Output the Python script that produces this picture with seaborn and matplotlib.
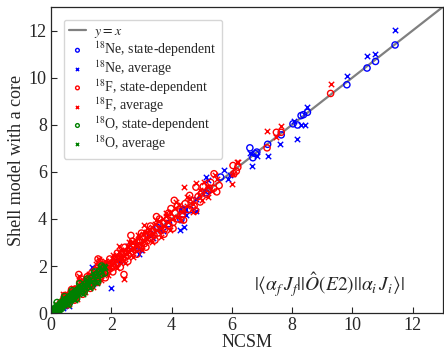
import matplotlib
matplotlib.use("Agg")
import matplotlib.pyplot as plt
import numpy as np
import pandas as pd
import seaborn as sns

sns.set_theme(style="ticks")
plt.rcParams["font.family"] = ["Liberation Serif", "DejaVu Serif"]
plt.rcParams["mathtext.fontset"] = "stix"
plt.rcParams["xtick.direction"] = "in"
plt.rcParams["ytick.direction"] = "in"

# 18Ne, state-dependent (NCSM, shell model)
ne_sd_x = [0.10, 0.18, 0.30, 0.45, 0.55, 1.35, 2.20, 2.90, 3.30, 3.54, 3.90, 4.31, 4.37,
           4.40, 4.42, 4.62, 5.14, 5.22, 5.63, 6.60, 6.70, 6.79, 6.83, 7.19, 7.64, 8.03,
           8.18, 8.30, 8.38, 8.51, 9.82, 10.49, 10.77, 11.42]
ne_sd_y = [0.08, 0.12, 0.22, 0.30, 0.35, 1.30, 2.15, 2.85, 3.35, 3.63, 3.80, 3.97, 4.36,
           4.41, 4.36, 4.39, 5.11, 5.21, 5.78, 7.02, 6.60, 6.77, 6.84, 7.17, 7.57, 8.04,
           7.99, 8.39, 8.43, 8.53, 9.70, 10.41, 10.69, 11.39]

# 18Ne, average
ne_av_x = [0.12, 0.25, 0.40, 0.60, 1.36, 1.40, 1.98, 2.30, 2.57, 2.91, 3.00, 3.40, 3.60,
           3.70, 4.29, 4.42, 4.48, 4.81, 4.81, 5.14, 5.22, 5.74, 5.87, 5.94, 6.60, 6.68,
           6.84, 7.19, 7.61, 8.05, 8.16, 8.30, 8.44, 8.51, 9.82, 10.49, 10.77, 11.42]
ne_av_y = [0.05, 0.10, 0.20, 0.30, 1.96, 1.25, 1.05, 2.20, 2.85, 2.53, 2.70, 3.20, 3.52,
           3.50, 3.52, 3.66, 4.15, 4.33, 4.83, 5.78, 5.67, 6.10, 5.71, 5.85, 6.80, 6.26,
           6.69, 6.67, 7.19, 8.18, 7.40, 7.99, 7.99, 8.77, 10.06, 10.90, 11.00, 12.02]

# 18F, state-dependent
f_sd_x = [0.22, 0.28, 0.31, 0.35, 0.40, 0.42, 0.46, 0.50, 0.53, 0.57, 0.60, 0.63, 0.66,
          0.70, 0.73, 0.76, 0.80, 0.83, 0.86, 0.90, 0.92, 0.95, 0.98, 1.02, 1.05, 1.08,
          1.12, 1.15, 1.18, 1.22, 1.25, 1.28, 1.31, 1.35, 1.38, 1.42, 1.45, 1.48, 1.52,
          1.56, 1.58, 1.62, 1.65, 1.68, 1.72, 1.75, 1.78, 1.82, 1.86, 1.90, 1.93, 1.97,
          2.00, 2.04, 2.08, 2.12, 2.15, 2.18, 2.22, 2.26, 2.30, 2.34, 2.38, 2.42, 2.45,
          2.48, 2.52, 2.56, 2.60, 2.64, 2.68, 2.72, 2.76, 2.80, 2.85, 2.90, 2.95, 3.00,
          3.05, 3.10, 3.15, 3.20, 3.25, 3.30, 3.36, 3.42, 3.48, 3.54, 3.60, 3.66, 3.72,
          3.78, 3.85, 3.92, 3.98, 3.98, 4.05, 4.09, 4.12, 4.20, 4.28, 4.36, 4.45, 4.55,
          4.65, 4.75, 4.81, 4.88, 4.95, 5.05, 5.15, 5.25, 5.40, 5.41, 5.58, 6.04, 6.07,
          6.15, 6.20, 7.17, 7.48, 7.64, 9.28,
          0.45, 0.55, 0.68, 0.78, 0.95, 1.05, 1.20, 1.30, 1.45, 1.55, 1.70, 1.80, 1.95,
          2.05, 2.20, 2.30, 2.45, 2.55, 2.70, 2.85, 3.00, 3.15, 3.30, 3.45, 3.60, 3.75,
          3.90, 4.05, 4.20, 4.40, 4.60, 4.80, 5.00, 5.30, 5.50, 2.65, 3.50, 1.00, 1.62]
f_sd_y = [0.30, 0.25, 0.42, 0.38, 0.55, 0.36, 0.62, 0.48, 0.70, 0.52, 0.78, 0.60, 0.85,
          0.66, 0.92, 0.74, 1.02, 0.78, 0.95, 0.86, 1.64, 1.10, 0.92, 1.18, 0.98, 1.30,
          1.05, 1.22, 1.12, 1.40, 1.18, 1.55, 1.28, 1.70, 1.36, 1.50, 1.42, 1.62, 1.48,
          2.30, 1.60, 1.75, 1.56, 1.82, 1.66, 1.90, 1.72, 1.95, 1.80, 2.02, 1.86, 2.10,
          1.92, 2.15, 2.00, 2.28, 2.05, 2.35, 2.12, 2.40, 2.22, 2.50, 2.30, 1.64, 2.55,
          2.38, 2.62, 2.46, 2.75, 2.55, 2.82, 2.62, 2.90, 2.70, 3.02, 2.78, 3.10, 2.86,
          3.25, 2.95, 3.35, 3.08, 3.45, 3.18, 3.50, 3.30, 3.62, 3.40, 3.75, 3.50, 3.85,
          3.58, 3.98, 3.70, 4.05, 4.44, 3.85, 4.79, 4.25, 4.00, 4.40, 4.20, 4.65, 4.40,
          4.80, 4.55, 5.35, 4.95, 4.72, 5.38, 5.05, 5.30, 5.30, 5.92, 5.42, 6.27, 5.92,
          6.03, 6.20, 7.02, 7.68, 7.68, 9.33,
          0.75, 0.35, 1.00, 0.55, 1.30, 0.80, 1.55, 1.05, 1.80, 1.30, 2.05, 1.50, 2.30,
          1.75, 2.55, 1.95, 2.80, 2.20, 3.05, 2.50, 3.40, 2.80, 3.70, 3.10, 4.00, 3.35,
          4.25, 3.60, 4.55, 3.95, 5.00, 4.35, 5.10, 5.55, 5.15, 3.30, 4.10, 1.45, 2.20]

# 18F, average
f_av_x = [0.20, 0.26, 0.30, 0.34, 0.38, 0.44, 0.48, 0.52, 0.56, 0.61, 0.64, 0.68, 0.72,
          0.75, 0.79, 0.84, 0.88, 0.92, 0.96, 1.00, 1.04, 1.10, 1.14, 1.17, 1.21, 1.26,
          1.30, 1.34, 1.37, 1.41, 1.44, 1.50, 1.54, 1.58, 1.61, 1.64, 1.69, 1.73, 1.77,
          1.81, 1.85, 1.88, 1.92, 1.96, 2.02, 2.06, 2.10, 2.14, 2.20, 2.24, 2.28, 2.32,
          2.36, 2.42, 2.44, 2.50, 2.54, 2.58, 2.62, 2.66, 2.70, 2.75, 2.80, 2.86, 2.92,
          2.98, 3.04, 3.08, 3.14, 3.18, 3.24, 3.30, 3.35, 3.40, 3.46, 3.52, 3.58, 3.64,
          3.70, 3.76, 3.82, 3.88, 3.95, 4.02, 4.10, 4.18, 4.26, 4.34, 4.42, 4.50, 4.60,
          4.70, 4.81, 4.90, 5.00, 5.08, 5.20, 5.35, 5.50, 6.02, 6.04, 6.18, 6.20, 7.17,
          7.48, 7.64, 9.28,
          0.40, 0.58, 0.72, 0.85, 1.00, 1.12, 1.25, 1.38, 1.52, 1.65, 1.78, 1.90, 2.05,
          2.18, 2.32, 2.45, 2.60, 2.72, 2.88, 3.02, 3.20, 3.35, 3.50, 3.65, 3.80, 3.95,
          4.15, 4.30, 4.50, 4.70, 4.95, 5.20, 5.45, 2.25, 3.10, 1.48]
f_av_y = [0.35, 0.22, 0.48, 0.32, 0.60, 0.44, 0.70, 0.55, 0.66, 0.58, 0.90, 0.72, 0.80,
          1.00, 0.84, 1.06, 0.90, 1.58, 1.02, 1.25, 1.08, 1.35, 1.15, 1.45, 1.25, 1.48,
          1.32, 1.60, 1.44, 1.75, 1.50, 1.70, 1.55, 2.29, 1.68, 1.92, 1.74, 2.00, 1.80,
          2.05, 1.88, 2.15, 1.96, 2.22, 2.05, 2.30, 2.12, 2.42, 2.20, 2.60, 2.32, 2.45,
          2.28, 1.44, 2.70, 2.52, 2.80, 2.58, 2.90, 2.68, 3.00, 2.72, 3.10, 2.88, 3.20,
          2.95, 3.35, 3.05, 3.45, 3.15, 3.55, 3.30, 3.65, 3.38, 3.78, 3.52, 3.90, 3.62,
          4.00, 3.72, 4.12, 3.85, 4.30, 3.98, 4.45, 4.10, 4.60, 4.30, 5.35, 4.55, 4.85,
          4.62, 5.54, 5.00, 4.80, 5.56, 5.35, 5.20, 5.70, 5.47, 5.89, 6.41, 6.41, 7.73,
          7.47, 7.95, 9.73,
          0.80, 0.40, 1.05, 0.62, 1.40, 0.88, 1.68, 1.12, 1.90, 1.40, 2.20, 1.62, 2.48,
          1.90, 2.70, 2.12, 3.00, 2.40, 3.30, 2.70, 3.60, 3.00, 3.95, 3.25, 4.25, 3.55,
          4.70, 3.95, 4.95, 4.30, 5.25, 4.95, 5.85, 2.85, 3.75, 2.10]

# 18O, state-dependent
o_sd_x = [0.05, 0.08, 0.10, 0.12, 0.15, 0.17, 0.20, 0.22, 0.25, 0.27, 0.30, 0.33, 0.36,
          0.38, 0.41, 0.44, 0.47, 0.50, 0.53, 0.56, 0.60, 0.63, 0.66, 0.70, 0.73, 0.76,
          0.80, 0.84, 0.88, 0.92, 0.96, 1.00, 1.05, 1.10, 1.15, 1.20, 1.25, 1.30, 1.36,
          1.42, 1.48, 1.54, 1.60, 1.66, 1.72,
          0.20, 0.35, 0.45, 0.60, 0.70, 0.85, 0.95, 1.10, 1.20, 1.35, 1.45, 1.55, 1.68,
          1.78]
o_sd_y = [0.08, 0.04, 0.15, 0.10, 0.20, 0.12, 0.25, 0.18, 0.30, 0.22, 0.35, 0.26, 0.42,
          0.32, 0.48, 0.38, 0.55, 0.44, 0.60, 0.50, 0.68, 0.56, 0.74, 0.62, 0.82, 0.70,
          0.90, 0.78, 0.98, 0.86, 1.06, 0.95, 1.15, 1.04, 1.25, 1.12, 1.38, 1.22, 1.50,
          1.36, 1.62, 1.50, 1.78, 1.65, 1.92,
          0.45, 0.20, 0.70, 0.40, 0.95, 0.62, 1.25, 0.88, 1.45, 1.15, 1.75, 1.35, 2.00,
          1.70]

# 18O, average
o_av_x = [0.04, 0.07, 0.09, 0.13, 0.14, 0.18, 0.21, 0.24, 0.26, 0.29, 0.31, 0.35, 0.37,
          0.40, 0.43, 0.46, 0.49, 0.52, 0.55, 0.58, 0.62, 0.65, 0.68, 0.72, 0.75, 0.79,
          0.82, 0.86, 0.90, 0.94, 0.98, 1.03, 1.08, 1.13, 1.18, 1.23, 1.28, 1.33, 1.39,
          1.45, 1.51, 1.57, 1.63, 1.70, 1.76,
          0.15, 0.30, 0.42, 0.55, 0.65, 0.80, 0.92, 1.05, 1.18, 1.30, 1.40, 1.52, 1.62,
          1.80]
o_av_y = [0.12, 0.02, 0.20, 0.08, 0.28, 0.16, 0.32, 0.20, 0.38, 0.28, 0.45, 0.30, 0.50,
          0.40, 0.56, 0.45, 0.62, 0.50, 0.70, 0.58, 0.76, 0.62, 0.82, 0.70, 0.90, 0.78,
          0.96, 0.84, 1.04, 0.92, 1.12, 1.00, 1.22, 1.10, 1.32, 1.20, 1.45, 1.32, 1.58,
          1.45, 1.70, 1.60, 1.85, 1.76, 2.00,
          0.40, 0.10, 0.65, 0.35, 0.90, 0.55, 1.18, 0.82, 1.40, 1.08, 1.70, 1.30, 1.95,
          1.95]

series = [
    (ne_sd_x, ne_sd_y, r"$^{18}$Ne, state-dependent", "blue", "o"),
    (ne_av_x, ne_av_y, r"$^{18}$Ne, average", "blue", "x"),
    (f_sd_x, f_sd_y, r"$^{18}$F, state-dependent", "red", "o"),
    (f_av_x, f_av_y, r"$^{18}$F, average", "red", "x"),
    (o_sd_x, o_sd_y, r"$^{18}$O, state-dependent", "green", "o"),
    (o_av_x, o_av_y, r"$^{18}$O, average", "green", "x"),
]

fig, ax = plt.subplots(figsize=(4.44, 3.53), dpi=100)
fig.subplots_adjust(left=0.115, right=0.997, bottom=0.113, top=0.98)

ax.axline((0, 0), slope=1, color="gray", lw=1.6, label=r"$y = x$", zorder=1)

for xs, ys, label, color, marker in series:
    df = pd.DataFrame({"ncsm": xs, "shell": ys})
    if marker == "o":
        sns.scatterplot(data=df, x="ncsm", y="shell", ax=ax, marker="o", s=20,
                        facecolor="none", edgecolor=color, linewidth=1.0,
                        label=label, zorder=2)
    else:
        sns.scatterplot(data=df, x="ncsm", y="shell", ax=ax, marker="x", s=15,
                        color=color, linewidth=1.0, label=label, zorder=2)

ax.set_xlim(0, 13)
ax.set_ylim(0, 13)
ax.set_xticks(np.arange(0, 13, 2))
ax.set_yticks(np.arange(0, 13, 2))
ax.tick_params(labelsize=13, length=4, width=0.8, pad=3)
for sp in ax.spines.values():
    sp.set_linewidth(0.9)
ax.set_xlabel("NCSM", fontsize=13, labelpad=0)
ax.set_ylabel("Shell model with a core", fontsize=13, labelpad=3)

ax.text(9.25, 1.2, r"$|\langle\alpha_f\,J_f||\hat{O}(E2)||\alpha_i\,J_i\rangle|$",
        fontsize=14, ha="center", va="center")

ax.legend(loc="upper left", fontsize=10, markerscale=0.6, handlelength=1.2,
          labelspacing=-0.05, borderaxespad=0.9, handletextpad=0.6,
          borderpad=0.4, frameon=True)

fig.savefig("out.png", dpi=100)
